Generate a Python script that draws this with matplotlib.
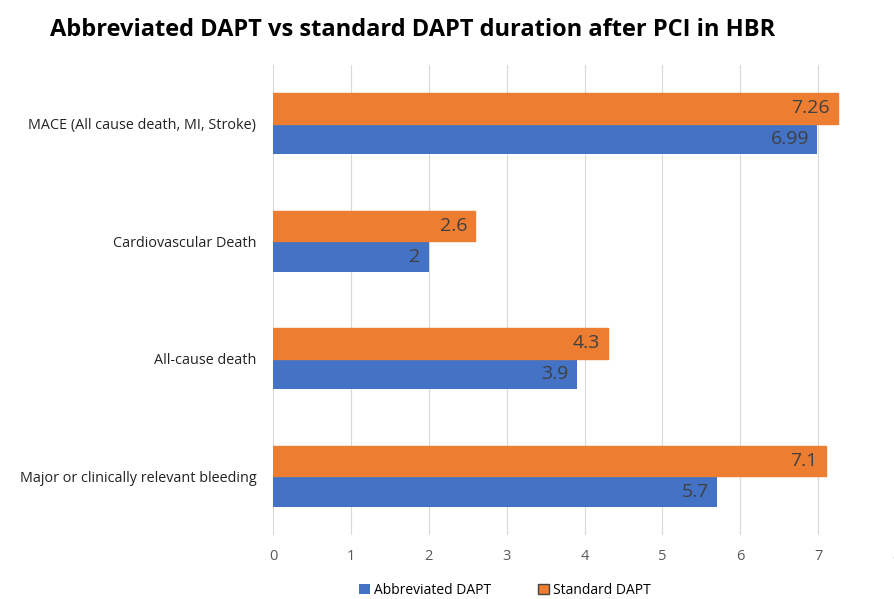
import numpy as np
import matplotlib.pyplot as plt

categories = ['MACE (All cause death, MI, Stroke)', 'Cardiovascular Death',
              'All-cause death', 'Major or clinically relevant bleeding']
abbreviated = [6.99, 2, 3.9, 5.7]
standard = [7.26, 2.6, 4.3, 7.1]
abbr_labels = ['6.99', '2', '3.9', '5.7']
std_labels = ['7.26', '2.6', '4.3', '7.1']

plt.rcParams['font.family'] = ['Open Sans', 'DejaVu Sans']

fig = plt.figure(figsize=(8.95, 5.99), dpi=100)
ax = fig.add_axes([273 / 895, 64 / 599, 623 / 895, 470 / 599])

y = np.arange(len(categories))
h = 0.26
b1 = ax.barh(y + h / 2, abbreviated, height=h, color='#4472C4', label='Abbreviated DAPT')
b2 = ax.barh(y - h / 2, standard, height=h, color='#ED7D31', label='Standard DAPT',
             edgecolor='#ED7D31')

# value labels, right-aligned just inside the bar end
for yy, vals, labs in [(y + h / 2, abbreviated, abbr_labels), (y - h / 2, standard, std_labels)]:
    for yi, v, lab in zip(yy, vals, labs):
        ax.annotate(lab, (v, yi), xytext=(-6, 0), textcoords='offset points',
                    ha='right', va='center', fontsize=14, color='#404040')

ax.set_xlim(0, 8)
ax.set_ylim(len(categories) - 0.5, -0.5)
ax.set_yticks(y)
ax.set_yticklabels(categories, fontsize=10.4, color='#222222')
ax.set_xticks(range(9))
ax.tick_params(axis='x', labelsize=10.5, colors='#595959', length=0, pad=10)
ax.tick_params(axis='y', length=0, pad=12)
ax.grid(axis='x', color='#D9D9D9', linewidth=0.8)
ax.set_axisbelow(True)
for s in ax.spines.values():
    s.set_visible(False)

fig.suptitle('Abbreviated DAPT vs standard DAPT duration after PCI in HBR',
             x=413 / 895, y=1 - 30 / 599, va='center', fontsize=17, fontweight='bold',
             family=['Liberation Sans Narrow', 'Open Sans', 'DejaVu Sans'])

legend_orange = plt.Rectangle((0, 0), 1, 1, facecolor='#ED7D31', edgecolor='#444444', linewidth=1)
fig.legend(handles=[b1, legend_orange], labels=['Abbreviated DAPT', 'Standard DAPT'],
           loc='center', bbox_to_anchor=(505 / 895, 1 - 590 / 599),
           ncol=2, frameon=False, fontsize=10, handlelength=0.75, handleheight=0.75,
           columnspacing=3.4, handletextpad=0.3)

fig.savefig('out.png', dpi=100)
